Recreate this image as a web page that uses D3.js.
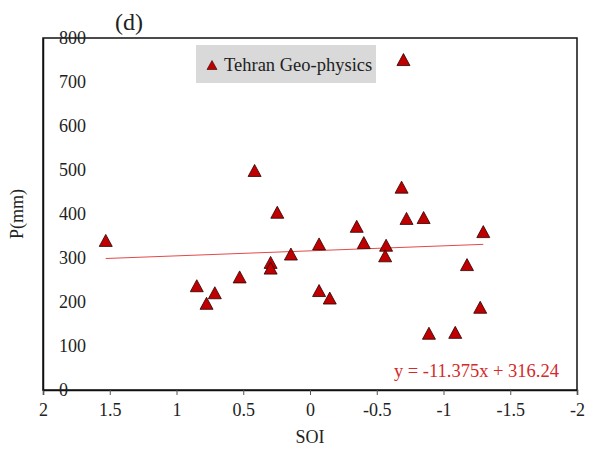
<!DOCTYPE html>
<html>
<head>
<meta charset="utf-8">
<script src="https://cdn.jsdelivr.net/npm/d3@7"></script>
<style>
  body { margin: 0; background: #fff; }
  svg text { font-family: "Liberation Serif", "Times New Roman", serif; fill: #222; }
</style>
</head>
<body>
<div id="wrapper"></div>
<script>
// data: SOI vs precipitation, Tehran Geo-physics
const soi = [1.53, 0.415, 0.245, 0.848, 0.713, 0.775, 0.527, 0.295, 0.295, 0.143,
  -0.068, -0.068, -0.148, -0.35, -0.403, -0.57, -0.563, -0.686, -0.70, -0.723,
  -0.851, -0.891, -1.088, -1.176, -1.275, -1.298]
const precip = [340, 499, 404, 237, 221, 197, 257, 290, 277, 309,
  332, 226, 209, 372, 335, 329, 305, 461, 751, 390,
  392, 129, 131, 285, 188, 360]
const xTicks = [2, 1.5, 1, 0.5, 0, -0.5, -1, -1.5, -2]
const yTicks = [0, 100, 200, 300, 400, 500, 600, 700, 800]
const seriesName = "Tehran Geo-physics"
const slope = -11.375
const intercept = 316.24

const dataset = soi.map((x, i) => ({ soi: x, p: precip[i] }))
const xAccessor = d => d.soi
const yAccessor = d => d.p

//..................................................
// dimensions
let dimensions = {
  width: 605,
  height: 455,
  margin: { top: 38, right: 28, bottom: 65, left: 43 },
}
dimensions.boundedWidth = dimensions.width - dimensions.margin.left - dimensions.margin.right
dimensions.boundedHeight = dimensions.height - dimensions.margin.top - dimensions.margin.bottom

const wrapper = d3.select("#wrapper")
  .append("svg")
    .attr("width", dimensions.width)
    .attr("height", dimensions.height)

const bounds = wrapper.append("g")
  .attr("transform", `translate(${dimensions.margin.left}, ${dimensions.margin.top})`)

//..................................................
// scales (x reversed: 2 on the left, -2 on the right)
const xScale = d3.scaleLinear()
  .domain([2, -2])
  .range([0, dimensions.boundedWidth])

const yScale = d3.scaleLinear()
  .domain([0, 800])
  .range([dimensions.boundedHeight, 0])

//..................................................
// frame + axes
bounds.append("rect")
  .attr("width", dimensions.boundedWidth)
  .attr("height", dimensions.boundedHeight)
  .attr("fill", "none")
  .attr("stroke", "#111")
  .attr("stroke-width", 1.5)

const xAxis = bounds.append("g")
  .attr("transform", `translate(0, ${dimensions.boundedHeight})`)
  .call(d3.axisBottom(xScale).tickValues(xTicks).tickSize(5).tickPadding(8).tickFormat(d3.format("")))
xAxis.select(".domain").attr("stroke", "#111").attr("stroke-width", 1.5)
xAxis.selectAll(".tick line").attr("stroke", "#555")
xAxis.selectAll("text")
  .attr("font-family", "Liberation Serif")
  .attr("font-size", 18)
  .attr("fill", "#222")
  .text(d => d3.format("")(d).replace("−", "-"))

const yAxis = bounds.append("g")
  .call(d3.axisRight(yScale).tickValues(yTicks).tickSize(0).tickPadding(16))
yAxis.select(".domain").attr("stroke", "#111").attr("stroke-width", 1.5)
yAxis.selectAll("text")
  .attr("font-family", "Liberation Serif")
  .attr("font-size", 18)
  .attr("fill", "#222")

//..................................................
// trendline over the data extent
const [xMax, xMin] = d3.extent(dataset, xAccessor).reverse()
bounds.append("line")
  .attr("x1", xScale(xMax))
  .attr("y1", yScale(slope * xMax + intercept))
  .attr("x2", xScale(xMin))
  .attr("y2", yScale(slope * xMin + intercept))
  .attr("stroke", "#e24a4a")
  .attr("stroke-width", 1)

//..................................................
// points (triangles)
const tri = (w, h) => `M0,${-h / 2}L${w / 2},${h / 2}L${-w / 2},${h / 2}Z`

bounds.selectAll(".pt")
  .data(dataset)
  .enter().append("path")
    .attr("class", "pt")
    .attr("d", tri(13, 12))
    .attr("transform", d => `translate(${xScale(xAccessor(d))}, ${yScale(yAccessor(d))})`)
    .attr("fill", "#c00000")
    .attr("stroke", "#2a0000")
    .attr("stroke-width", 0.8)

//..................................................
// labels
bounds.append("text")
  .attr("x", xScale(-2) - 18)
  .attr("y", yScale(0) - 13)
  .attr("text-anchor", "end")
  .attr("font-size", 18.5)
  .style("fill", "#d42a2a")
  .text(`y = ${slope}x + ${intercept}`)

wrapper.append("text")
  .attr("x", dimensions.margin.left + dimensions.boundedWidth / 2)
  .attr("y", 443)
  .attr("text-anchor", "middle")
  .attr("font-size", 18)
  .text("SOI")

wrapper.append("text")
  .attr("transform", `translate(23, ${dimensions.margin.top + dimensions.boundedHeight / 2}) rotate(-90)`)
  .attr("text-anchor", "middle")
  .attr("font-size", 18)
  .text("P(mm)")

wrapper.append("text")
  .attr("x", 129)
  .attr("y", 30)
  .attr("text-anchor", "middle")
  .attr("font-size", 24)
  .text("(d)")

// legend
const legend = wrapper.append("g")
legend.append("rect")
  .attr("x", 196).attr("y", 45)
  .attr("width", 180).attr("height", 38)
  .attr("fill", "#d9d9d9")
legend.append("path")
  .attr("d", tri(10, 9))
  .attr("transform", "translate(212, 65)")
  .attr("fill", "#c00000")
  .attr("stroke", "#2a0000")
  .attr("stroke-width", 0.6)
legend.append("text")
  .attr("x", 224)
  .attr("y", 65)
  .attr("dy", "0.35em")
  .attr("font-size", 18.5)
  .text(seriesName)
</script>
</body>
</html>
